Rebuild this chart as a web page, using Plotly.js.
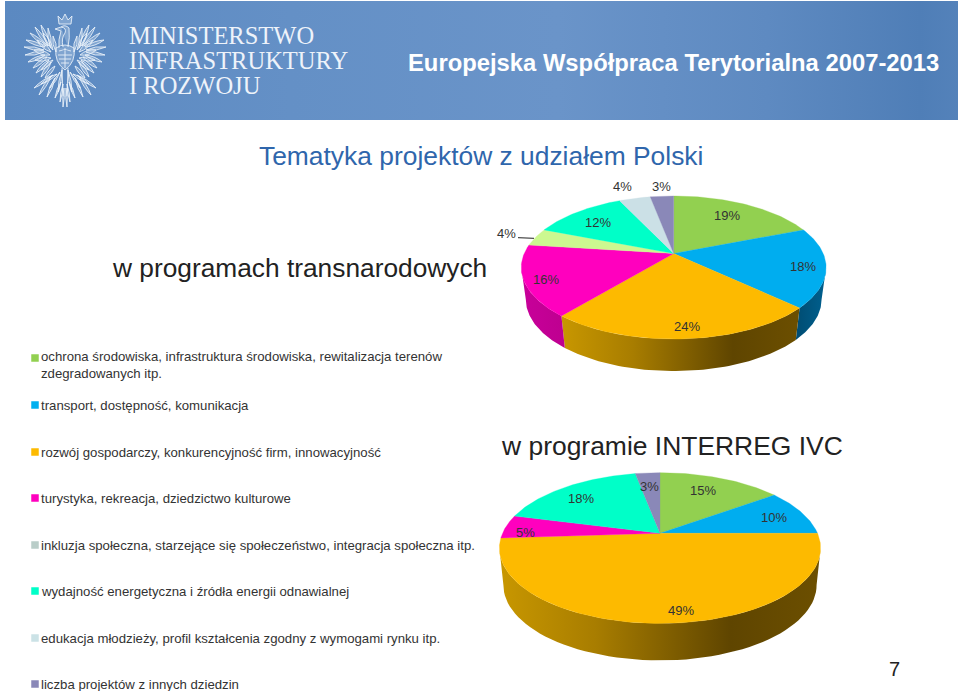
<!DOCTYPE html>
<html><head><meta charset="utf-8">
<script src="https://cdn.plot.ly/plotly-3.0.1.min.js"></script>
<style>html,body{margin:0;padding:0;background:#fff;overflow:hidden}</style>
</head><body><div id="chart" style="width:960px;height:691px"></div>
<script>
// ---- data ----
const categories = [
  'ochrona środowiska, infrastruktura środowiska, rewitalizacja terenów<br>zdegradowanych itp.',
  'transport, dostępność, komunikacja',
  'rozwój gospodarczy, konkurencyjność firm, innowacyjność',
  'turystyka, rekreacja, dziedzictwo kulturowe',
  'inkluzja społeczna, starzejące się społeczeństwo, integracja społeczna itp.',
  'wydajność energetyczna i źródła energii odnawialnej',
  'edukacja młodzieży, profil kształcenia zgodny z wymogami rynku itp.',
  'liczba projektów z innych dziedzin'
];
const legendColors = ['#92D050','#00B0F0','#FDBA00','#FF00BE','#B9CDC8','#00FFC8','#CBE2E6','#8A88B8'];

const transnationalValues = [19,18,24,16,4,12,4,3];
const transnationalColors = ['#92D050','#00ADEF','#FDBA00','#FF00BE','#CCF890','#00FFC8','#CBE0E6','#8A88B8'];
const interregValues = [15,10,49,5,18,3];
const interregColors = ['#92D050','#00ADEF','#FDBA00','#FF00BE','#00FFC8','#8A88B8'];

// side-wall shades by slice colour
const wallScales = {
  '#00ADEF': [[0,'#004C72'],[1,'#00608F']],
  '#FDBA00': [[0,'#C89700'],[0.3,'#A87D00'],[0.72,'#5F4500'],[1,'#6C4F00']],
  '#FF00BE': [[0,'#C8009A'],[1,'#BE0090']]
};

// ---- layout constants (pixels of the 960x691 page) ----
const pieA = {cx:673.7, cy:253.5, R:149.5, Ry:68.8, k:0.196, depth:32, shrink:0.97};
const pieB = {cx:660,   cy:533.3, R:157.5, Ry:72.5, k:0.196, depth:37, shrink:0.975};
const labelsA = [[727,215],[803,266],[687,326],[546,279],[506,233],[598,222],[622,186],[661,186]];
const labelsB = [[703,490],[774,517],[681,610],[525,532],[581,498],[649,486]];
const legendY = [358,405,452,498,545,591,638,684];
const legendTextY = [365,405,452,498,545,591,638,684];

function pt(p, deg, s, dy){
  const t = deg*Math.PI/180, d = 1 + p.k*Math.cos(t);
  return [p.cx + s*p.R*Math.sin(t)/d, p.cy - p.Ry*Math.cos(t)/d + dy];
}
const VIS0 = 101.3, VIS1 = 258.7;
const traces = [];
function addPie(p, values, colors){
  const total = values.reduce((a,b)=>a+b,0);
  let c = 0;
  const spans = values.map(v=>{const a=c/total*360; c+=v; return [a,c/total*360];});
  spans.forEach((sp,i)=>{
    const a=Math.max(sp[0],VIS0), b=Math.min(sp[1],VIS1);
    if(b<=a) return;
    const xs=[],ys=[];
    for(let j=0;j<=60;j++){const q=pt(p,a+(b-a)*j/60,1,0);xs.push(q[0]);ys.push(q[1]);}
    for(let j=60;j>=0;j--){const q=pt(p,a+(b-a)*j/60,p.shrink,p.depth);xs.push(q[0]);ys.push(q[1]);}
    xs.push(xs[0]);ys.push(ys[0]);
    traces.push({type:'scatter',mode:'lines',x:xs,y:ys,fill:'toself',line:{width:0,color:colors[i]},
      fillgradient:{type:'horizontal',colorscale:wallScales[colors[i]]},hoverinfo:'skip',showlegend:false});
  });
  spans.forEach((sp,i)=>{
    const xs=[p.cx],ys=[p.cy],n=Math.max(8,Math.ceil(sp[1]-sp[0]));
    for(let j=0;j<=n;j++){const q=pt(p,sp[0]+(sp[1]-sp[0])*j/n,1,0);xs.push(q[0]);ys.push(q[1]);}
    xs.push(p.cx);ys.push(p.cy);
    traces.push({type:'scatter',mode:'lines',x:xs,y:ys,fill:'toself',fillcolor:colors[i],
      line:{width:0.3,color:colors[i]},hoverinfo:'skip',showlegend:false});
  });
}

// header band
traces.push({type:'scatter',mode:'lines',x:[5,958,958,5,5],y:[1,1,120,120,1],fill:'toself',
  line:{width:0,color:'#6690c6'},hoverinfo:'skip',showlegend:false,
  fillgradient:{type:'horizontal',colorscale:[[0,'#5B89C1'],[0.3,'#6490C6'],[0.58,'#6A94C9'],[0.8,'#5E8AC1'],[0.96,'#4F7EB7'],[1,'#5482BA']]}});

addPie(pieA, transnationalValues, transnationalColors);
addPie(pieB, interregValues, interregColors);

traces.push({type:'scatter',mode:'lines',x:[518,534],y:[237.7,238.3],line:{width:1,color:'#222'},hoverinfo:'skip',showlegend:false});

traces.push({type:'scatter',mode:'markers',x:legendColors.map(()=>35),y:legendY,
  marker:{symbol:'square',size:7.5,color:legendColors,line:{width:0}},hoverinfo:'skip',showlegend:false});

const ann = [];
function txt(text,x,y,size,color,opt){
  ann.push(Object.assign({xref:'x',yref:'y',x:x,y:y,text:text,showarrow:false,xanchor:'left',yanchor:'middle',
    align:'left',borderpad:0,font:{family:'"Liberation Sans",Arial,sans-serif',size:size,color:color}},opt||{}));
}
categories.forEach((c,i)=>txt(c,40,legendTextY[i],13.2,'#333333'));
transnationalValues.forEach((v,i)=>txt(v+'%',labelsA[i][0],labelsA[i][1],13,'#333333',{xanchor:'center'}));
interregValues.forEach((v,i)=>txt(v+'%',labelsB[i][0],labelsB[i][1],13,'#333333',{xanchor:'center'}));

txt('w programach transnarodowych',111,268,26.3,'#222222');
txt('w programie INTERREG IVC',500,446,26.45,'#222222');
txt('7',888,669,20,'#222222');
txt('Europejska Współpraca Terytorialna 2007-2013',407,62,23.8,'#ffffff',{font:{family:'"Liberation Sans",Arial,sans-serif',size:23.8,color:'#ffffff',weight:700}});
const serif='"Liberation Serif","Times New Roman",serif';
['MINISTERSTWO','INFRASTRUKTURY','I ROZWOJU'].forEach((t,i)=>
  txt(t,128,[35,60,85][i],24.5,'#eef3fa',{font:{family:serif,size:24.5,color:'#eef3fa'}}));

// emblem (decorative, drawn as thin leaf outlines)
const ec=65, shapes=[];
function leaf(bx,by,tx,ty,w){
  const mx=(bx+tx)/2,my=(by+ty)/2,dx=tx-bx,dy=ty-by,l=Math.hypot(dx,dy)||1,nx=-dy/l*w,ny=dx/l*w;
  return `M${bx} ${by}Q${mx+nx} ${my+ny} ${tx} ${ty}Q${mx-nx} ${my-ny} ${bx} ${by}Z`;
}
const half=[
 [14,48,17,28,3],[15,46,24,25,3],[17,46,30,27,3],[19,46,35,33,3],[20,47,39,40,3],[21,50,41,47,3],
 [21,52,40,55,3],[20,55,37,62,3],[18,57,32,68,3],[16,60,29,73,3],[14,62,24,77,3],
 [12,50,22,33,4],[14,52,28,40,4],[15,55,31,50,4],[14,58,30,60,4],[12,60,24,70,3],
 [9,52,12,36,3],[10,66,20,78,3],
 [3,70,7,92,2],[5,72,15,88,2],[8,74,24,84,2.5],[12,75,31,88,2.5],[14,76,26,95,2.5],[10,78,18,97,2.5],
 [2,84,5,102,1.5],[1,88,2,107,1.5],[4,82,10,98,2]
];
let d='';
[1,-1].forEach(s=>half.forEach(f=>{d+=leaf(ec+s*f[0],f[1],ec+s*f[2],f[3],f[4]);}));
d+=`M${ec-9} 48Q${ec} 42 ${ec+9} 48Q${ec+11} 62 ${ec} 70Q${ec-11} 62 ${ec-9} 48Z`;
d+=`M${ec-6} 51Q${ec} 48 ${ec+6} 51M${ec-7} 55L${ec+7} 55M${ec-6} 59L${ec+6} 59M${ec-4} 63L${ec+4} 63M${ec} 48L${ec} 68`;
d+=`M${ec-3} 68L${ec-2} 96M${ec+3} 68L${ec+2} 96`;
d+=`M${ec-2} 47Q${ec-4} 38 ${ec} 33Q${ec+2} 28 ${ec-4} 27L${ec-10} 29L${ec-4} 31Q${ec-7} 40 ${ec-6} 48`;
d+=`M${ec+3} 47Q${ec+5} 38 ${ec+4} 28Q${ec} 24 ${ec-4} 27`;
d+=`M${ec-6} 24L${ec-7} 16L${ec-3} 20L${ec} 14L${ec+3} 20L${ec+7} 16L${ec+6} 24Z`;
shapes.push({type:'path',xref:'x',yref:'y',path:d,line:{color:'rgba(236,243,250,0.85)',width:1},fillcolor:'rgba(236,243,250,0.25)'});

const layout={
  width:960,height:691,margin:{l:0,r:0,t:0,b:0,pad:0},paper_bgcolor:'#fff',plot_bgcolor:'#fff',showlegend:false,
  hovermode:false,
  title:{text:'Tematyka projektów z udziałem Polski',xref:'paper',yref:'paper',x:259/960,xanchor:'left',y:1-156/691,yanchor:'middle',
    font:{family:'"Liberation Sans",Arial,sans-serif',size:26.4,color:'#2F66AC'}},
  xaxis:{range:[0,960],visible:false,fixedrange:true},
  yaxis:{range:[691,0],visible:false,fixedrange:true},
  annotations:ann,shapes:shapes
};
Plotly.newPlot('chart',traces,layout,{displayModeBar:false,staticPlot:true});
</script></body></html>
